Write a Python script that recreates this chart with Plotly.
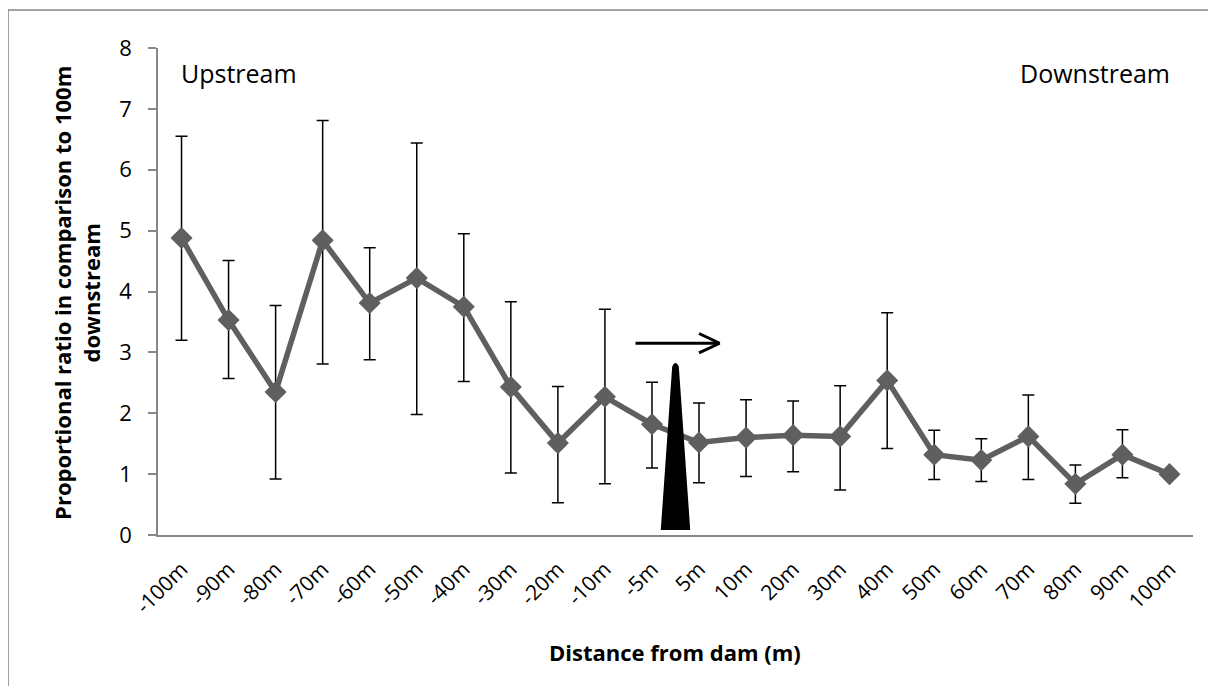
import plotly.graph_objects as go

categories = ["-100m", "-90m", "-80m", "-70m", "-60m", "-50m", "-40m", "-30m", "-20m", "-10m", "-5m",
              "5m", "10m", "20m", "30m", "40m", "50m", "60m", "70m", "80m", "90m", "100m"]
values = [4.88, 3.53, 2.35, 4.84, 3.81, 4.22, 3.75, 2.43, 1.51, 2.27, 1.82,
          1.52, 1.60, 1.64, 1.62, 2.54, 1.32, 1.23, 1.62, 0.84, 1.32, 1.00]
upper = [6.55, 4.51, 3.77, 6.81, 4.72, 6.44, 4.95, 3.83, 2.44, 3.71, 2.51,
         2.17, 2.22, 2.20, 2.45, 3.65, 1.72, 1.58, 2.30, 1.15, 1.73, None]
lower = [3.20, 2.57, 0.92, 2.81, 2.88, 1.98, 2.52, 1.02, 0.53, 0.84, 1.10,
         0.86, 0.96, 1.04, 0.74, 1.42, 0.91, 0.88, 0.91, 0.52, 0.94, None]
y_ticks = [0, 1, 2, 3, 4, 5, 6, 7, 8]

xs = list(range(len(categories)))
err_plus = [(u - v) if u is not None else float("nan") for u, v in zip(upper, values)]
err_minus = [(v - l) if l is not None else float("nan") for l, v in zip(lower, values)]

FONT = "Open Sans"
AXIS_GREY = "#868686"
SERIES_GREY = "#5f5f5f"

fig = go.Figure()
fig.add_trace(go.Scatter(
    x=xs, y=values, mode="lines+markers",
    line=dict(color=SERIES_GREY, width=5.5),
    marker=dict(symbol="diamond", size=17, color=SERIES_GREY),
    error_y=dict(type="data", array=err_plus, arrayminus=err_minus, symmetric=False,
                 color="black", thickness=1.5, width=6),
    showlegend=False, hoverinfo="skip",
))

dam_x = 10.5  # between -5m and 5m
shapes = [
    # dam wedge
    dict(type="path", xref="x", yref="y",
         path=f"M {dam_x-0.29},0.1 L {dam_x-0.05},2.76 Q {dam_x},2.86 {dam_x+0.05},2.76 L {dam_x+0.29},0.1 Z",
         fillcolor="black", line=dict(color="black", width=2), layer="above"),
    # flow arrow shaft
    dict(type="line", xref="x", yref="y", x0=9.65, y0=3.15, x1=11.42, y1=3.15,
         line=dict(color="black", width=3)),
    # arrow head (open chevron)
    dict(type="line", xref="x", yref="y", x0=11.0, y0=3.31, x1=11.44, y1=3.15,
         line=dict(color="black", width=3)),
    dict(type="line", xref="x", yref="y", x0=11.0, y0=2.99, x1=11.44, y1=3.15,
         line=dict(color="black", width=3)),
    # outer chart border
    dict(type="rect", xref="paper", yref="paper", x0=-0.1449, y0=-0.5, x1=1.2, y1=1.078,
         line=dict(color=AXIS_GREY, width=1.5), fillcolor="rgba(0,0,0,0)", layer="below"),
]

annotations = [
    dict(text="Upstream", x=-0.05, y=7.59, xref="x", yref="y", xanchor="left", yanchor="middle",
         showarrow=False, font=dict(family=FONT, size=25, color="black")),
    dict(text="Downstream", x=21.05, y=7.59, xref="x", yref="y", xanchor="right", yanchor="middle",
         showarrow=False, font=dict(family=FONT, size=25, color="black")),
    dict(text="<b>Proportional ratio in comparison to 100m<br>downstream</b>",
         x=-0.0783, y=0.497, xref="paper", yref="paper", xanchor="center", yanchor="middle",
         textangle=-90, showarrow=False, align="center",
         font=dict(family=FONT, size=22, color="black")),
    dict(text="<b>Distance from dam (m)</b>", x=0.4995, y=-0.240, xref="paper", yref="paper",
         xanchor="center", yanchor="middle", showarrow=False,
         font=dict(family=FONT, size=22, color="black")),
]

fig.update_layout(
    width=1208, height=678,
    margin=dict(l=150, r=23, t=40, b=151),
    paper_bgcolor="white", plot_bgcolor="white",
    font=dict(family=FONT, size=19, color="black"),
    shapes=shapes, annotations=annotations,
    xaxis=dict(range=[-0.5, len(categories) - 0.5], tickmode="array", tickvals=xs, ticktext=categories,
               tickangle=-45, showline=True, linecolor=AXIS_GREY, linewidth=1.5, ticks="",
               ticklabelstandoff=12,
               showgrid=False, zeroline=False, tickfont=dict(family=FONT, size=21, color="black")),
    yaxis=dict(range=[0, 8], tickmode="array", tickvals=y_ticks, showline=True, linecolor=AXIS_GREY,
               linewidth=1.5, ticks="outside", ticklen=8, tickcolor=AXIS_GREY, tickwidth=1.5,
               ticklabelstandoff=12,
               showgrid=False, zeroline=False, tickfont=dict(family=FONT, size=22, color="black")),
)

fig.write_html("out.html")
